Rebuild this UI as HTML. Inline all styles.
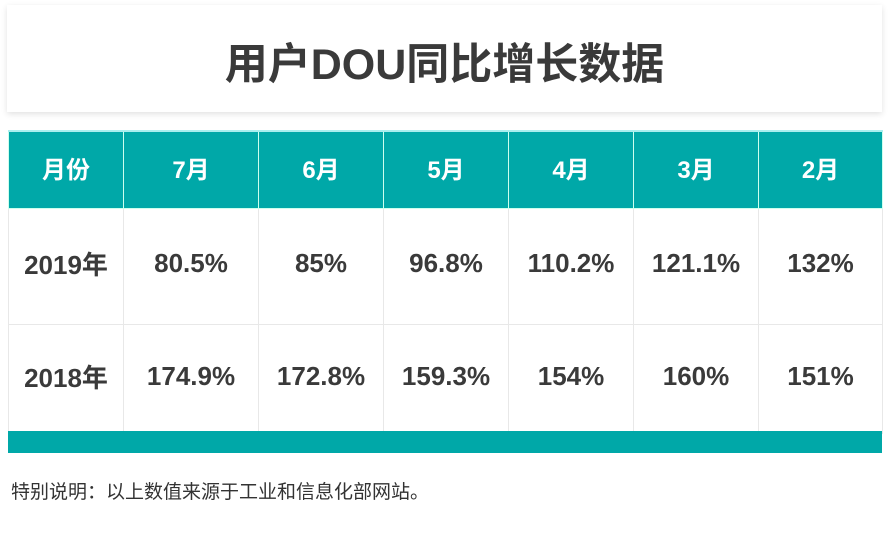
<!DOCTYPE html>
<html><head><meta charset="utf-8"><style>
body{margin:0;width:890px;height:545px;background:#fff;position:relative;overflow:hidden;font-family:"Liberation Sans","Noto Sans CJK SC",sans-serif;}
.title{position:absolute;left:7px;top:5px;width:875px;height:107px;background:#fff;box-shadow:0 2px 6px rgba(0,0,0,0.12);}
.title div{position:absolute;left:0;right:0;top:32px;text-align:center;font-size:43px;font-weight:bold;color:#3a3a3a;line-height:56px;}
table{position:absolute;left:8px;top:130px;border-collapse:collapse;}
td{border:1px solid #e8e8e8;text-align:center;font-size:26px;font-weight:bold;color:#3a3a3a;padding:0;}
tr.h td{background:#00a8a8;color:#fff;height:70px;border-color:#cfe;border-top:2px solid #aee;font-size:24px;padding-bottom:6px;}
tr.r1 td{height:115px;padding-bottom:6px;height:109px;}
tr.r2 td{height:102px;padding-bottom:6px;}
.bar{position:absolute;left:8px;top:431px;width:874px;height:22px;background:#00a8a8;}
.note{position:absolute;left:11px;top:477px;font-size:19px;color:#333;}
</style></head><body>
<div class="title"><div>用户DOU同比增长数据</div></div>
<table>
<tr class="h"><td style="width:114px">月份</td><td style="width:134px">7月</td><td style="width:124px">6月</td><td style="width:124px">5月</td><td style="width:124px">4月</td><td style="width:124px">3月</td><td style="width:123px">2月</td></tr>
<tr class="r1"><td>2019年</td><td>80.5%</td><td>85%</td><td>96.8%</td><td>110.2%</td><td>121.1%</td><td>132%</td></tr>
<tr class="r2"><td>2018年</td><td>174.9%</td><td>172.8%</td><td>159.3%</td><td>154%</td><td>160%</td><td>151%</td></tr>
</table>
<div class="bar"></div>
<div class="note">特别说明：以上数值来源于工业和信息化部网站。</div>
</body></html>
